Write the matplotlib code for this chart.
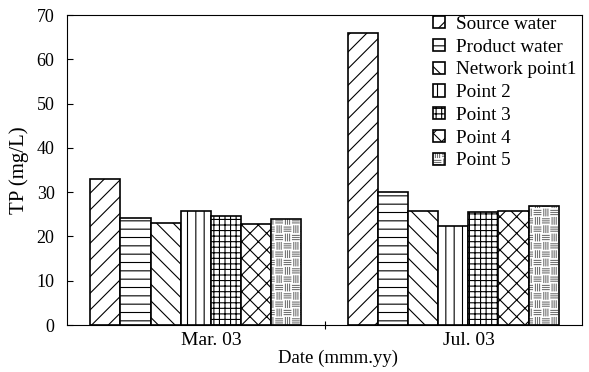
import warnings
import numpy as np
import matplotlib
matplotlib.use('Agg')
import matplotlib.pyplot as plt
import matplotlib.hatch as mhatch
from matplotlib.path import Path

warnings.filterwarnings('ignore')

dates = ['Mar. 03', 'Jul. 03']
sites = ['Source water', 'Product water', 'Network point1',
         'Point 2', 'Point 3', 'Point 4', 'Point 5']
tp_mar = [33.0, 24.2, 23.0, 25.8, 24.6, 22.7, 23.9]
tp_jul = [66.0, 30.0, 25.8, 22.3, 25.6, 25.8, 26.8]


class WeaveHatch(mhatch.HatchPatternBase):
    """checkerboard of short horizontal / vertical strokes, char 'w'"""

    def __init__(self, hatch, density):
        self.cells = int(hatch.count('w') * density)
        self.num_vertices = self.cells * self.cells * 3 * 2

    def set_vertices_and_codes(self, vertices, codes):
        s = 1.0 / self.cells
        k = 0
        for i in range(self.cells):
            for j in range(self.cells):
                x0, y0 = i * s, j * s
                for n in range(3):
                    t = (n + 1) / 4.0 * s
                    if (i + j) % 2 == 0:
                        vertices[k] = (x0 + 0.1 * s, y0 + t)
                        vertices[k + 1] = (x0 + 0.9 * s, y0 + t)
                    else:
                        vertices[k] = (x0 + t, y0 + 0.1 * s)
                        vertices[k + 1] = (x0 + t, y0 + 0.9 * s)
                    codes[k] = Path.MOVETO
                    codes[k + 1] = Path.LINETO
                    k += 2


mhatch._hatch_types.append(WeaveHatch)

plt.rcParams['font.family'] = 'Liberation Serif'
plt.rcParams['hatch.linewidth'] = 0.8

hatches = ['//', '--', '\\\\', '||', '+++', 'xx', 'ww']

fig = plt.figure(figsize=(5.89, 3.72), dpi=100)
ax = fig.add_axes([0.1138, 0.1263, 0.8744, 0.8333])

centers = np.array([0.5, 1.5])
width = 0.117
values = np.array([tp_mar, tp_jul])
handles = []
for i, name in enumerate(sites):
    offs = (i - 3) * width
    if hatches[i] == 'ww':
        # grey texture under a black outline
        fill = ax.bar(centers + offs, values[:, i], width, color='white',
                      edgecolor='0.45', linewidth=0, hatch=hatches[i])
        edge = ax.bar(centers + offs, values[:, i], width, fill=False,
                      edgecolor='black', linewidth=1.2)
        handles.append((fill[0], edge[0]))
    else:
        b = ax.bar(centers + offs, values[:, i], width, color='white',
                   edgecolor='black', linewidth=1.2, hatch=hatches[i])
        handles.append(b[0])

ax.set_xlim(0, 2)
ax.set_ylim(0, 70)
ax.set_yticks(range(0, 71, 10))
ax.tick_params(axis='y', direction='in', length=4, labelsize=13, pad=9)

# one crossing tick between the two months, labels near the group centres
ax.set_xticks([1])
ax.set_xticklabels([''])
ax.tick_params(axis='x', which='major', direction='inout', length=6)
ax.set_xticks(centers + 0.06, minor=True)
ax.set_xticklabels(dates, minor=True)
ax.tick_params(axis='x', which='minor', length=0, labelsize=14, pad=5)

ax.set_ylabel('TP (mg/L)', fontsize=15)
ax.yaxis.set_label_coords(-0.074, 0.5)
ax.set_xlabel('Date (mmm.yy)', fontsize=13.5)
ax.xaxis.set_label_coords(0.527, -0.078)

ax.legend(handles, sites, loc='upper left', frameon=False, fontsize=13.8,
          handlelength=0.6, handleheight=0.6, handletextpad=0.62,
          labelspacing=0.3, borderpad=0, borderaxespad=0,
          bbox_to_anchor=((433 - 67) / 515, 0.997))

fig.savefig('out.png', dpi=100)
